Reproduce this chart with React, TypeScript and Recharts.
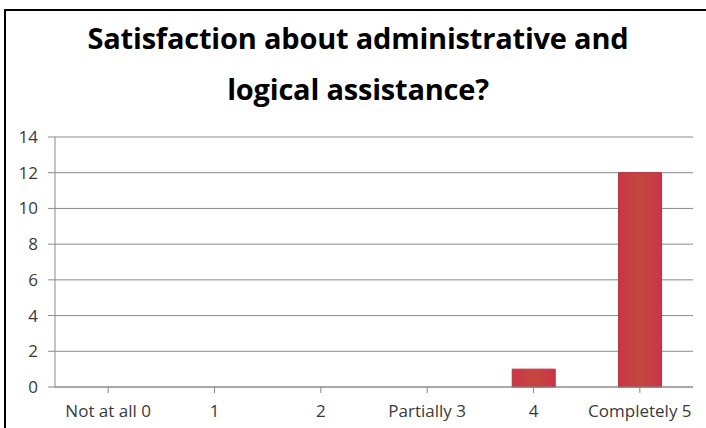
import React from 'react';
import { BarChart, Bar, XAxis, YAxis, CartesianGrid } from 'recharts';

const categories = ['Not at all 0', '1', '2', 'Partially 3', '4', 'Completely 5'];
const values = [0, 0, 0, 0, 1, 12];
const yTicks = [0, 2, 4, 6, 8, 10, 12, 14];
const titleLines = ['Satisfaction about administrative and', 'logical assistance?'];

const data = categories.map((c, i) => ({ name: c, value: values[i] }));

const font = '"Open Sans", Lato, sans-serif';

export default function App() {
  return (
    <div style={{ position: 'absolute', left: 0, top: 0, width: 706, height: 428, background: '#fff', overflow: 'hidden' }}>
      <div style={{ position: 'absolute', left: 4, top: 9, width: 720, height: 440, borderLeft: '2px solid #000', borderTop: '2px solid #000' }} />
      {titleLines.map((t, i) => (
        <div
          key={i}
          style={{
            position: 'absolute',
            left: 0,
            width: 716,
            top: 21 + i * 51,
            textAlign: 'center',
            fontFamily: font,
            fontWeight: 700,
            fontSize: 29,
            lineHeight: '34px',
            letterSpacing: '-0.2px',
            color: '#000',
            whiteSpace: 'nowrap',
          }}
        >
          {t}
        </div>
      ))}
      <div style={{ position: 'absolute', left: 0, top: 0 }}>
        <BarChart width={706} height={428} data={data} margin={{ top: 137, right: 13, bottom: 11, left: 0 }} barCategoryGap="30%">
          <defs>
            <linearGradient id="barGrad" x1="0" y1="0" x2="1" y2="0">
              <stop offset="0%" stopColor="#CA3548" />
              <stop offset="50%" stopColor="#C4473F" />
              <stop offset="100%" stopColor="#CA3548" />
            </linearGradient>
          </defs>
          <CartesianGrid vertical={false} stroke="#8a8a8a" strokeWidth={1} />
          <XAxis
            dataKey="name"
            height={30}
            interval={0}
            stroke="#8a8a8a"
            tickSize={6}
            tickMargin={12}
            tick={{ fill: '#3a3a3a', fontSize: 17, fontFamily: font }}
          />
          <YAxis
            width={55}
            domain={[0, 14]}
            ticks={yTicks}
            interval={0}
            stroke="#8a8a8a"
            tickSize={7}
            tickMargin={10}
            tick={{ fill: '#3a3a3a', fontSize: 17, fontFamily: font }}
          />
          <Bar dataKey="value" fill="url(#barGrad)" stroke="#B8303F" strokeWidth={1} isAnimationActive={false} />
        </BarChart>
      </div>
    </div>
  );
}
